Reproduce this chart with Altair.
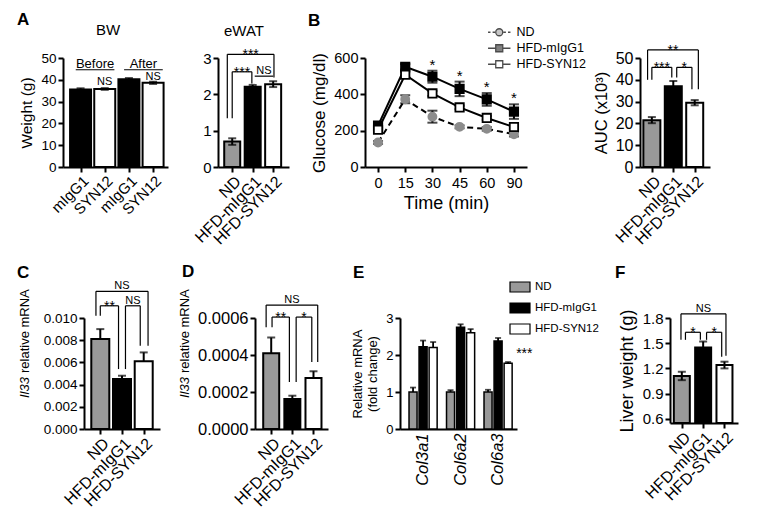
import altair as alt
import pandas as pd

FONT = "Liberation Sans"
GRAY_BAR = "#999999"
GRAY_PT = "#8c8c8c"

# ---------------- data ----------------
groups3 = ["ND", "HFD-mIgG1", "HFD-SYN12"]

# A: body weight
bw_cats = ["mIgG1", "SYN12", "mIgG1", "SYN12"]
bw_values = [35.6, 35.8, 40.2, 38.6]
bw_errors = [0.5, 0.4, 0.6, 0.5]
bw_lines = dict(x1=[-0.2, 1.8], x2=[1.4, 3.4], y=[44.6, 44.6], b1=[44.6, 44.6], b2=[44.6, 44.6],
                label=["Before", "After"])
bw_ns_x = [1, 3]
bw_ns_y = [37.6, 39.8]

# A: eWAT
ewat_values = [0.70, 2.21, 2.28]
ewat_errors = [0.09, 0.05, 0.08]
ewat_br = dict(x1=[-0.24, 0.0, 1.1], x2=[2.04, 0.96, 2.0], y=[3.1, 2.62, 2.5],
               b1=[1.34, 1.34, 2.5], b2=[2.46, 2.3, 2.5], label=["***", "***", "NS"])

# B: glucose tolerance
gtt_times = ["0", "15", "30", "45", "60", "90"]
gtt_nd = [135, 373, 277, 221, 210, 180]
gtt_nd_err = [8, 22, 33, 8, 10, 12]
gtt_igg = [228, 552, 497, 430, 372, 305]
gtt_igg_err = [14, 15, 33, 40, 35, 40]
gtt_syn = [205, 508, 405, 328, 270, 220]
gtt_syn_err = [14, 14, 14, 10, 10, 12]
gtt_sig = ["", "", "*", "*", "*", "*"]

auc_values = [21.5, 37.0, 29.5]
auc_errors = [1.4, 2.5, 1.2]
auc_br = dict(x1=[-0.2, 0.0, 1.16], x2=[2.17, 0.93, 1.87], y=[53.7, 45.7, 45.7],
              b1=[40, 40, 41], b2=[35.7, 41, 35.7], label=["**", "***", "*"])

# C
c_values = [0.0081, 0.0045, 0.0061]
c_errors = [0.0009, 0.0003, 0.0008]
c_br = dict(x1=[-0.2, 0.0, 1.16], x2=[2.2, 0.84, 1.84], y=[0.0124, 0.0111, 0.0111],
            b1=[0.0102, 0.0102, 0.0054], b2=[0.0075, 0.0054, 0.0075], label=["NS", "**", "NS"])

# D
d_values = [0.00041, 0.000162, 0.000276]
d_errors = [0.000084, 0.000018, 0.000036]
d_br = dict(x1=[-0.24, 0.04, 1.18], x2=[2.2, 0.86, 1.92], y=[0.00067, 0.000605, 0.000605],
            b1=[0.00055, 0.00055, 0.000254], b2=[0.000362, 0.000254, 0.000362], label=["NS", "**", "*"])

# E
e_genes = ["Col3a1", "Col6a2", "Col6a3"]
e_nd = [1.0, 1.0, 1.0]
e_nd_err = [0.12, 0.05, 0.06]
e_igg = [2.22, 2.75, 2.38]
e_igg_err = [0.17, 0.08, 0.08]
e_syn = [2.20, 2.60, 1.78]
e_syn_err = [0.15, 0.10, 0.03]
e_sig = ["", "", "***"]
e_sig_y = [0, 0, 2.14]

# F
f_values = [1.11, 1.45, 1.24]
f_errors = [0.05, 0.07, 0.04]
f_br = dict(x1=[-0.04, 0.17, 1.16], x2=[2.07, 0.87, 1.87], y=[1.85, 1.63, 1.63],
            b1=[1.54, 1.54, 1.54], b2=[1.35, 1.54, 1.34], label=["NS", "*", "*"])


# ---------------- helpers ----------------
def label(text, x, y, size=14, weight="normal", align="left", angle=0, style="normal", baseline="alphabetic"):
    return alt.Chart(pd.DataFrame({"t": [text]})).mark_text(
        fontSize=size, fontWeight=weight, align=align, angle=angle, fontStyle=style,
        baseline=baseline, color="black", font=FONT
    ).encode(x=alt.value(x), y=alt.value(y), text="t:N")


def bracket_layers(br, X, Y, star_size=14, ns_size=11):
    c = alt.Chart(pd.DataFrame(br))
    h = c.mark_rule(color="black", strokeWidth=1.2).encode(x=X("x1"), x2="x2:Q", y=Y("y"))
    l1 = c.mark_rule(color="black", strokeWidth=1.2).encode(x=X("x1"), y=Y("y"), y2="b1:Q")
    l2 = c.mark_rule(color="black", strokeWidth=1.2).encode(x=X("x2"), y=Y("y"), y2="b2:Q")
    t = c.transform_calculate(xm="(datum.x1 + datum.x2) / 2", star="indexof(datum.label, '*') >= 0")
    ts = t.transform_filter("datum.star").mark_text(
        baseline="alphabetic", dy=5, fontSize=star_size, color="black", font=FONT
    ).encode(x=X("xm"), y=Y("y"), text="label:N")
    tn = t.transform_filter("!datum.star").mark_text(
        baseline="alphabetic", dy=-2, fontSize=ns_size, color="black", font=FONT
    ).encode(x=X("xm"), y=Y("y"), text="label:N")
    return [h, l1, l2, ts, tn]


def bar_panel(cats, values, errors, groups, color_domain, color_range, xdomain, ydomain,
              yticks, yfmt, ytitle, width, height, bar_size, brackets=None, err_both=True,
              ylab=13.5, ytit=15, xlab=16, cap=8, title_pad=6, extra=()):
    n = len(cats)
    df = pd.DataFrame({"cat": cats, "grp": groups, "val": values, "err": errors, "i": list(range(n))})
    label_expr = "[" + ",".join("'" + c + "'" for c in cats) + "][datum.value]"
    xaxis = alt.Axis(values=list(range(n)), labelExpr=label_expr, labelAngle=-45, labelAlign="right",
                     labelBaseline="top", labelFontSize=xlab, title=None, labelPadding=1,
                     labelOverlap=False, labelBound=False)
    xscale = alt.Scale(domain=xdomain, nice=False, zero=False)
    yaxis = alt.Axis(values=yticks, format=yfmt, labelFontSize=ylab, titleFontSize=ytit,
                     titlePadding=title_pad, title=ytitle, labelOverlap=False)
    yscale = alt.Scale(domain=ydomain, nice=False, zero=False)

    def X(f):
        return alt.X(f + ":Q", scale=xscale, axis=xaxis)

    def Y(f):
        return alt.Y(f + ":Q", scale=yscale, axis=yaxis)

    base = alt.Chart(df)
    bars = base.mark_bar(size=bar_size, stroke="black", strokeWidth=2).encode(
        x=X("i"), y=Y("val"), y2=alt.datum(ydomain[0]),
        fill=alt.Fill("grp:N", scale=alt.Scale(domain=color_domain, range=color_range), legend=None))
    eb = base.transform_calculate(lo=("datum.val - datum.err" if err_both else "datum.val"),
                                  hi="datum.val + datum.err")
    rule = eb.mark_rule(color="black", strokeWidth=2).encode(x=X("i"), y=Y("lo"), y2="hi:Q")
    layers = [bars, rule,
              eb.mark_tick(orient="horizontal", size=cap, thickness=2, color="black").encode(x=X("i"), y=Y("hi"))]
    if err_both:
        layers.append(eb.mark_tick(orient="horizontal", size=cap, thickness=2, color="black").encode(
            x=X("i"), y=Y("lo")))
    if brackets:
        layers += bracket_layers(brackets, X, Y)
    layers += list(extra(X, Y)) if callable(extra) else list(extra)
    return alt.layer(*layers).properties(width=width, height=height)


def spacer(w, h):
    return alt.Chart(pd.DataFrame({"s": [0]})).mark_text(text="").encode(
        x=alt.value(0)).properties(width=w, height=h)


H1 = 109
H2 = 111

# ---------------- A: BW ----------------
def bw_extra(X, Y):
    ns = alt.Chart(pd.DataFrame({"x": bw_ns_x, "y": bw_ns_y, "t": ["NS", "NS"]})).mark_text(
        baseline="alphabetic", fontSize=11, color="black", font=FONT).encode(x=X("x"), y=Y("y"), text="t:N")
    lines = bracket_layers(bw_lines, X, Y, ns_size=13)
    return lines + [ns, label("A", -46, -33, size=17, weight="bold"), label("BW", 45, -23, size=15, align="center")]


bw = bar_panel(bw_cats, bw_values, bw_errors, bw_cats, ["mIgG1", "SYN12"], ["black", "white"],
               [-0.52, 3.41], [0, 50], [0, 10, 20, 30, 40, 50], "d", "Weight (g)", 105, H1, 21,
               ytit=15.5, xlab=15, extra=bw_extra)

ewat = bar_panel(groups3, ewat_values, ewat_errors, groups3, groups3, [GRAY_BAR, "black", "white"],
                 [-0.45, 2.53], [0, 3], [0, 1, 2, 3], "d", None, 71, H1, 16, brackets=ewat_br,
                 ylab=15, extra=[label("eWAT", 26, -22, size=15, align="center")])

# ---------------- B: GTT ----------------
gtt_df = pd.DataFrame({
    "t": gtt_times * 3,
    "grp": [g for g in groups3 for _ in gtt_times],
    "val": gtt_nd + gtt_igg + gtt_syn,
    "err": gtt_nd_err + gtt_igg_err + gtt_syn_err,
    "sig": [""] * 6 + gtt_sig + [""] * 6,
})
xB_axis = alt.Axis(labelAngle=0, title="Time (min)", labelFontSize=14.5, titleFontSize=18,
                   labelPadding=4, titlePadding=5)
xB_scale = alt.Scale(type="point", padding=0.48)
yB_axis = alt.Axis(values=[0, 200, 400, 600], title="Glucose (mg/dl)", labelFontSize=14.5,
                   titleFontSize=17, titlePadding=5)
yB_scale = alt.Scale(domain=[0, 600], nice=False)


def XB():
    return alt.X("t:O", sort=gtt_times, scale=xB_scale, axis=xB_axis)


def YB(f):
    return alt.Y(f + ":Q", scale=yB_scale, axis=yB_axis)


def series(grp, shape, fill, stroke, size, dash=None):
    s = alt.Chart(gtt_df).transform_filter("datum.grp == '" + grp + "'")
    line_kw = dict(color="black", strokeWidth=2)
    if dash:
        line_kw["strokeDash"] = dash
    line = s.mark_line(**line_kw).encode(x=XB(), y=YB("val"))
    eb = s.transform_calculate(lo="datum.val - datum.err", hi="datum.val + datum.err")
    rule = eb.mark_rule(color="black", strokeWidth=2).encode(x=XB(), y=YB("lo"), y2="hi:Q")
    c1 = eb.mark_tick(orient="horizontal", size=10, thickness=2, color="black").encode(x=XB(), y=YB("hi"))
    c2 = eb.mark_tick(orient="horizontal", size=10, thickness=2, color="black").encode(x=XB(), y=YB("lo"))
    pts = s.mark_point(shape=shape, filled=True, fill=fill, stroke=stroke, strokeWidth=1.8,
                       size=size, opacity=1).encode(x=XB(), y=YB("val"))
    return [line, rule, c1, c2, pts]


nd_path = "M-3.2,0H-2.5M-1.9,0H-1.2M1.2,0H1.9M2.5,0H3.2M-1,0A1,1,0,1,1,1,0A1,1,0,1,1,-1,0Z"
sq_path = "M-3.2,0H-1M1,0H3.2M-1,-1H1V1H-1Z"
legB = alt.Legend(title=None, orient="none", legendX=128, legendY=-32, symbolSize=49, labelFontSize=12.5,
                  labelOffset=11, rowPadding=3, padding=0, symbolStrokeWidth=1.3)
legend_layer = alt.Chart(gtt_df).transform_filter("false").mark_point(filled=True).encode(
    shape=alt.Shape("grp:N", scale=alt.Scale(domain=groups3, range=[nd_path, sq_path, sq_path]), legend=legB),
    fill=alt.Fill("grp:N", scale=alt.Scale(domain=groups3, range=[GRAY_PT, "black", "white"]), legend=legB),
    stroke=alt.Stroke("grp:N", scale=alt.Scale(domain=groups3, range=["black", "black", "black"]), legend=legB),
)
stars = alt.Chart(gtt_df).transform_filter("datum.sig != ''").transform_calculate(
    hi="datum.val + datum.err").mark_text(baseline="alphabetic", dy=-1, fontSize=15, color="black", font=FONT
                                          ).encode(x=XB(), y=YB("hi"), text="sig:N")
gtt = alt.layer(
    *series("ND", "circle", GRAY_PT, GRAY_PT, 65, dash=[6, 4]),
    *series("HFD-mIgG1", "square", "black", "black", 70),
    *series("HFD-SYN12", "square", "white", "black", 70),
    stars, legend_layer, label("B", -57, -32, size=17, weight="bold"),
).properties(width=162, height=H1)

auc = bar_panel(groups3, auc_values, auc_errors, groups3, groups3, [GRAY_BAR, "black", "white"],
                [-0.32, 2.48], [0, 50], [0, 10, 20, 30, 40, 50], "d", "AUC (x10³)", 70, H1, 17,
                brackets=auc_br, ylab=16, ytit=16.5)

# ---------------- C, D ----------------
c_panel = bar_panel(groups3, c_values, c_errors, groups3, groups3, [GRAY_BAR, "black", "white"],
                    [-0.52, 2.52], [0, 0.010], [0, 0.002, 0.004, 0.006, 0.008, 0.010], ".3f", None,
                    76, H2, 18, brackets=c_br, err_both=False, ylab=13.5,
                    extra=[label("C", -67, -40, size=17, weight="bold"),
                           label("Il33", -59, 80, size=13, angle=270, style="italic", baseline="middle"),
                           label("relative mRNA", -59, 55, size=13, angle=270, baseline="middle")])

d_panel = bar_panel(groups3, d_values, d_errors, groups3, groups3, [GRAY_BAR, "black", "white"],
                    [-0.53, 2.45], [0, 0.0006], [0, 0.0002, 0.0004, 0.0006], ".4f", None,
                    73, H2, 16, brackets=d_br, err_both=False, ylab=16.5,
                    extra=[label("D", -73, -41, size=17, weight="bold"),
                           label("Il33", -70, 80, size=13, angle=270, style="italic", baseline="middle"),
                           label("relative mRNA", -70, 55, size=13, angle=270, baseline="middle")])

# ---------------- E ----------------
e_df = pd.DataFrame({
    "gene": e_genes * 3,
    "grp": [g for g in groups3 for _ in e_genes],
    "val": e_nd + e_igg + e_syn,
    "err": e_nd_err + e_igg_err + e_syn_err,
})
e_sig_df = pd.DataFrame({"gene": e_genes, "grp": ["HFD-SYN12"] * 3, "sig": e_sig, "y": e_sig_y})
xE_axis = alt.Axis(labelAngle=-90, labelAlign="right", labelBaseline="middle", labelFontStyle="italic",
                   labelFontSize=16.5, ticks=False, title=None, labelPadding=4, labelOverlap=False)
xE_scale = alt.Scale(paddingInner=0.25, paddingOuter=0.185, align=0.65)
xoE = alt.XOffset("grp:N", sort=groups3, scale=alt.Scale(paddingInner=0.2))
yE_axis = alt.Axis(values=[0, 1, 2, 3], title=["Relative mRNA", "(fold change)"], labelFontSize=13,
                   titleFontSize=13, titlePadding=6)
yE_scale = alt.Scale(domain=[0, 3], nice=False)


def XE():
    return alt.X("gene:N", sort=e_genes, scale=xE_scale, axis=xE_axis)


def YE(f):
    return alt.Y(f + ":Q", scale=yE_scale, axis=yE_axis)


legE = alt.Legend(title=None, orient="none", legendX=114, legendY=-37, symbolType="M-2,-1H2V1H-2Z",
                  symbolSize=100, symbolStrokeColor="black", symbolStrokeWidth=1.2, labelFontSize=11.5,
                  labelOffset=9, rowPadding=5, padding=0)
e_base = alt.Chart(e_df)
e_bars = e_base.mark_bar(stroke="black", strokeWidth=1.5).encode(
    x=XE(), xOffset=xoE, y=YE("val"),
    fill=alt.Fill("grp:N", scale=alt.Scale(domain=groups3, range=[GRAY_BAR, "black", "white"]), legend=legE))
e_eb = e_base.transform_calculate(hi="datum.val + datum.err")
e_rule = e_eb.mark_rule(color="black", strokeWidth=1.8).encode(x=XE(), xOffset=xoE, y=YE("val"), y2="hi:Q")
e_cap = e_eb.mark_tick(orient="horizontal", size=6, thickness=1.8, color="black").encode(
    x=XE(), xOffset=xoE, y=YE("hi"))
e_star = alt.Chart(e_sig_df).transform_filter("datum.sig != ''").mark_text(
    align="left", baseline="alphabetic", dx=8, dy=8, fontSize=14, color="black", font=FONT
).encode(x=XE(), xOffset=xoE, y=YE("y"), text="sig:N")
e_panel = alt.layer(e_bars, e_rule, e_cap, e_star, label("E", -47, -40, size=17, weight="bold")
                    ).properties(width=117, height=H2)

# ---------------- F ----------------
f_panel = bar_panel(groups3, f_values, f_errors, groups3, groups3, [GRAY_BAR, "black", "white"],
                    [-0.32, 2.4], [0.55, 1.8], [0.6, 0.9, 1.2, 1.5, 1.8], ".1f", "Liver weight (g)",
                    68, 105, 16, brackets=f_br, ylab=15, ytit=18,
                    extra=[label("F", -55, -40, size=17, weight="bold")])

INDEP = dict(fill="independent", shape="independent", stroke="independent")

row1 = alt.hconcat(spacer(1, H1), bw, spacer(50, H1), ewat, spacer(76, H1), gtt, spacer(113, H1), auc,
                   spacing=0, bounds="flush").resolve_scale(**INDEP).resolve_legend(**INDEP)
row2 = alt.hconcat(spacer(22, H2), c_panel, spacer(95, H2), d_panel, spacer(72, H2), e_panel,
                   spacer(153, H2), f_panel,
                   spacing=0, bounds="flush").resolve_scale(**INDEP).resolve_legend(**INDEP)

chart = alt.vconcat(row1, row2, spacing=15).resolve_scale(**INDEP).resolve_legend(**INDEP).properties(
    padding={"left": 9, "top": 3, "right": 5, "bottom": 5}
).configure_view(strokeWidth=0).configure_axis(
    domainColor="black", domainWidth=2, tickColor="black", tickWidth=2, tickSize=5,
    labelColor="black", titleColor="black", grid=False, labelFont=FONT, titleFont=FONT,
    titleFontWeight="normal", labelPadding=2
).configure_legend(labelFont=FONT, labelColor="black").configure_text(font=FONT)

chart.save("out.html", embed_options={"renderer": "svg", "actions": False})
